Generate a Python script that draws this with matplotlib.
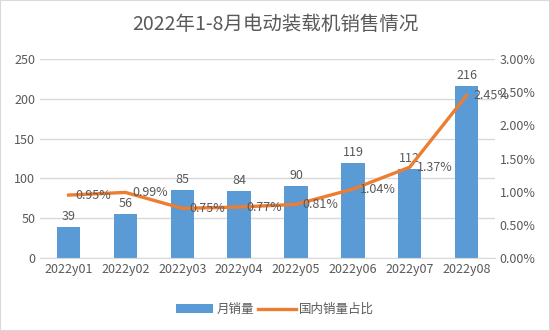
import matplotlib.pyplot as plt
from matplotlib.ticker import FuncFormatter
from matplotlib.patches import Rectangle

plt.rcParams['font.family'] = ['Noto Sans CJK SC', 'DejaVu Sans']

months = ['2022y01', '2022y02', '2022y03', '2022y04', '2022y05', '2022y06', '2022y07', '2022y08']
sales = [39, 56, 85, 84, 90, 119, 112, 216]
share = [0.95, 0.99, 0.75, 0.77, 0.81, 1.04, 1.37, 2.45]  # 百分比

grey = '#595959'
fig = plt.figure(figsize=(5.5, 3.31), dpi=100)
fig.patches.append(Rectangle((0, 0), 1, 1, transform=fig.transFigure, fill=False,
                             edgecolor='#d9d9d9', linewidth=1.5))
ax = fig.add_axes([0.073, 0.22, 0.827, 0.602])
x = list(range(len(months)))

bars = ax.bar(x, sales, width=0.41, color='#5B9BD5', label='月销量', zorder=2)
for xi, v in zip(x, sales):
    ax.text(xi, v + 5, str(v), ha='center', va='bottom', fontsize=9, color=grey)
ax.set_ylim(0, 250)
ax.set_yticks(range(0, 251, 50))
ax.set_xlim(-0.5, 7.5)
ax.set_xticks(x)
ax.set_xticklabels(months)
ax.grid(axis='y', color='#d9d9d9', linewidth=1, zorder=0)
ax.set_axisbelow(True)

ax2 = ax.twinx()
line, = ax2.plot(x, share, color='#ED7D31', linewidth=2.4, label='国内销量占比', zorder=3)
for xi, v in zip(x, share):
    ax2.text(xi + 0.12, v, f'{v:.2f}%', ha='left', va='center', fontsize=9, color=grey)
ax2.set_ylim(0, 3)
ax2.set_yticks([i * 0.5 for i in range(7)])
ax2.yaxis.set_major_formatter(FuncFormatter(lambda v, p: f'{v:.2f}%'))

for a in (ax, ax2):
    for s in a.spines.values():
        s.set_visible(False)
    a.tick_params(length=0, labelsize=9, labelcolor=grey)
ax.spines['bottom'].set_visible(True)
ax.spines['bottom'].set_color('#d9d9d9')

fig.text(0.5, 0.925, '2022年1-8月电动装载机销售情况', ha='center', va='center',
         fontsize=14, color=grey)
fig.legend([bars, line], ['月销量', '国内销量占比'], loc='center', bbox_to_anchor=(0.5, 0.065),
           ncol=2, frameon=False, fontsize=9, labelcolor=grey, handlelength=3,
           columnspacing=0.3, handletextpad=0.3)

plt.savefig('out.png')
